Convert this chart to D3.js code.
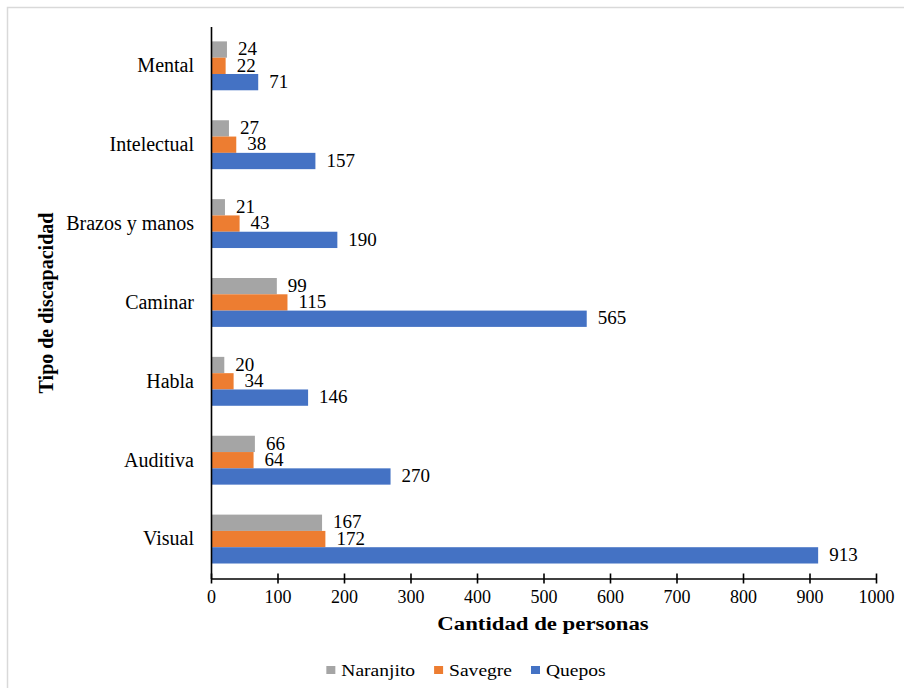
<!DOCTYPE html>
<html>
<head>
<meta charset="utf-8">
<script src="https://cdn.jsdelivr.net/npm/d3@7"></script>
<style>
  html, body { margin: 0; padding: 0; background: #ffffff; }
  svg { display: block; }
  svg text { font-family: "Liberation Serif", "DejaVu Serif", "Times New Roman", Times, serif; fill: #000; }
</style>
</head>
<body>
<svg id="chart" width="904" height="688"></svg>
<script>
// Disability types (top to bottom) and people counts per canton
const categories = ["Mental", "Intelectual", "Brazos y manos", "Caminar", "Habla", "Auditiva", "Visual"];
const seriesNames = ["Naranjito", "Savegre", "Quepos"];
const naranjito = [24, 27, 21, 99, 20, 66, 167];
const savegre   = [22, 38, 43, 115, 34, 64, 172];
const quepos    = [71, 157, 190, 565, 146, 270, 913];
const xTicks = [0, 100, 200, 300, 400, 500, 600, 700, 800, 900, 1000];
const colors = ["#A5A5A5", "#ED7D31", "#4472C4"];

const seriesValues = [naranjito, savegre, quepos];
const rows = categories.map((c, i) => ({
  category: c,
  values: seriesNames.map((s, k) => ({ series: s, value: seriesValues[k][i], color: colors[k] }))
}));

const svg = d3.select("#chart");
const W = 904, H = 688;
const plot = { left: 211, right: 876, top: 26.4, bottom: 578.5 };

// Outer chart frame (extends past the visible window)
svg.append("rect")
  .attr("x", 7.5).attr("y", 7.5)
  .attr("width", W + 20).attr("height", H + 20)
  .attr("fill", "#ffffff")
  .attr("stroke", "#d9d9d9").attr("stroke-width", 1.5);

const x = d3.scaleLinear().domain([0, 1000]).range([plot.left, plot.right]);
const y0 = d3.scaleBand().domain(categories).range([plot.top, plot.bottom])
  .paddingInner(0.38).paddingOuter(0.19);
const y1 = d3.scaleBand().domain(seriesNames).range([0, y0.bandwidth()]);

// Bars
const groups = svg.append("g").selectAll("g")
  .data(rows).join("g")
  .attr("transform", d => `translate(0,${y0(d.category)})`);

groups.selectAll("rect")
  .data(d => d.values).join("rect")
  .attr("x", x(0))
  .attr("y", d => y1(d.series))
  .attr("width", d => x(d.value) - x(0))
  .attr("height", y1.bandwidth())
  .attr("fill", d => d.color);

// Value labels
groups.selectAll("text.val")
  .data(d => d.values).join("text")
  .attr("class", "val")
  .attr("x", d => x(d.value) + 11)
  .attr("y", d => y1(d.series) + y1.bandwidth() / 2)
  .attr("dy", "0.3em")
  .attr("font-size", 19)
  .text(d => d.value);

// X axis
const xAxis = d3.axisBottom(x).tickValues(xTicks).tickFormat(d3.format("d"))
  .tickSizeInner(5).tickSizeOuter(0).tickPadding(8);
const gx = svg.append("g").attr("transform", `translate(0,${plot.bottom})`).call(xAxis);
gx.select(".domain").attr("stroke", "#000").attr("stroke-width", 1.6);
gx.selectAll(".tick line").attr("stroke", "#000").attr("stroke-width", 1.6).attr("y1", -5).attr("y2", 5);
gx.selectAll(".tick text").attr("font-size", 18).attr("fill", "#000").attr("y", 12);

// Y axis (line only, category labels to the left)
const yAxis = d3.axisLeft(y0).tickSize(0).tickPadding(17);
const gy = svg.append("g").attr("transform", `translate(${plot.left},0)`).call(yAxis);
gy.select(".domain").attr("stroke", "#000").attr("stroke-width", 1.6);
gy.selectAll(".tick text").attr("font-size", 20).attr("fill", "#000");

// Axis titles
svg.append("text")
  .attr("transform", `translate(543,630) scale(1.2,1)`)
  .attr("text-anchor", "middle")
  .attr("font-weight", "bold").attr("font-size", 19)
  .text("Cantidad de personas");

svg.append("text")
  .attr("transform", `translate(53,303) rotate(-90)`)
  .attr("text-anchor", "middle")
  .attr("font-weight", "bold").attr("font-size", 20)
  .text("Tipo de discapacidad");

// Legend: swatch + name, laid out left to right and centred
const legend = svg.append("g").attr("transform", "translate(0,670)");
const items = legend.selectAll("g").data(seriesNames).join("g");
items.append("rect")
  .attr("y", -4).attr("width", 9).attr("height", 8)
  .attr("fill", (d, i) => colors[i]);
items.append("text")
  .attr("dy", "0.35em")
  .attr("font-size", 17)
  .attr("transform", "translate(15,0) scale(1.15,1)")
  .text(d => d);
let cursor = 0;
const positions = [];
items.each(function () {
  const w = this.getBBox().width;
  positions.push(cursor);
  cursor += w + 19;
});
const total = cursor - 19;
const startX = 466 - total / 2;
items.attr("transform", (d, i) => `translate(${startX + positions[i]},0)`);
</script>
</body>
</html>
